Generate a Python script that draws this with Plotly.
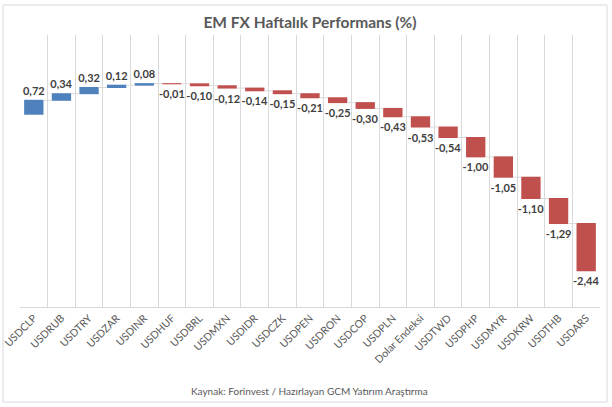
import plotly.graph_objects as go

categories = ["USDCLP", "USDRUB", "USDTRY", "USDZAR", "USDINR", "USDHUF", "USDBRL",
              "USDMXN", "USDIDR", "USDCZK", "USDPEN", "USDRON", "USDCOP", "USDPLN",
              "Dolar Endeksi", "USDTWD", "USDPHP", "USDMYR", "USDKRW", "USDTHB", "USDARS"]
values = [0.72, 0.34, 0.32, 0.12, 0.08, -0.01, -0.10, -0.12, -0.14, -0.15, -0.21,
          -0.25, -0.30, -0.43, -0.53, -0.54, -1.00, -1.05, -1.10, -1.29, -2.44]
labels = [f"{v:.2f}".replace(".", ",") for v in values]

title_text = "EM FX Haftalık Performans (%)"
source_text = "Kaynak: Forinvest / Hazırlayan GCM Yatırım Araştırma"

FONT = "Lato, Carlito, Calibri, sans-serif"

fig = go.Figure(go.Waterfall(
    x=categories,
    y=values,
    measure=["relative"] * len(values),
    text=labels,
    textposition="outside",
    constraintext="none",
    textfont=dict(family=FONT, size=11, color="#404040", weight="bold"),
    increasing=dict(marker=dict(color="#4F81BD")),
    decreasing=dict(marker=dict(color="#C0504D")),
    connector=dict(line=dict(color="#D9D9D9", width=1), mode="between"),
    width=0.7,
    cliponaxis=False,
    hoverinfo="skip",
))

fig.update_layout(
    width=612, height=407,
    margin=dict(l=20, r=12, t=35, b=100, autoexpand=False),
    paper_bgcolor="white",
    plot_bgcolor="white",
    showlegend=False,
    font=dict(family=FONT, color="#595959"),
    title=dict(text=title_text, x=0.5, xanchor="center", xref="paper",
               y=(407 - 22.5) / 407, yref="container", yanchor="middle",
               font=dict(family=FONT, size=15.5, color="#595959", weight="bold")),
    xaxis=dict(type="category", tickson="boundaries", showgrid=True, gridcolor="#D9D9D9",
               gridwidth=1, showline=True, linecolor="#D9D9D9", linewidth=1,
               ticks="", tickangle=-45, tickfont=dict(family=FONT, size=10.5, color="#595959"),
               range=[-0.5, len(categories) - 0.5], automargin=False),
    yaxis=dict(range=[-9.95, 4.09], showgrid=False, zeroline=False, automargin=False,
               showticklabels=False, ticks="", showline=False),
    shapes=[dict(type="rect", xref="paper", yref="paper",
                 x0=(3 - 20) / 580, x1=(607 - 20) / 580,
                 y0=(307 - 402) / 272, y1=(307 - 5) / 272,
                 line=dict(color="#D9D9D9", width=1), fillcolor="rgba(0,0,0,0)", layer="below")],
    annotations=[dict(text=source_text, xref="paper", yref="paper",
                      x=(309 - 20) / 580, y=(307 - 391) / 272, xanchor="center", yanchor="middle",
                      showarrow=False, font=dict(family=FONT, size=10, color="#595959"))],
)

fig.write_html("out.html",
               config={"displayModeBar": False, "staticPlot": True},
               post_script="document.body.style.margin='0';document.body.style.overflow='hidden';")
